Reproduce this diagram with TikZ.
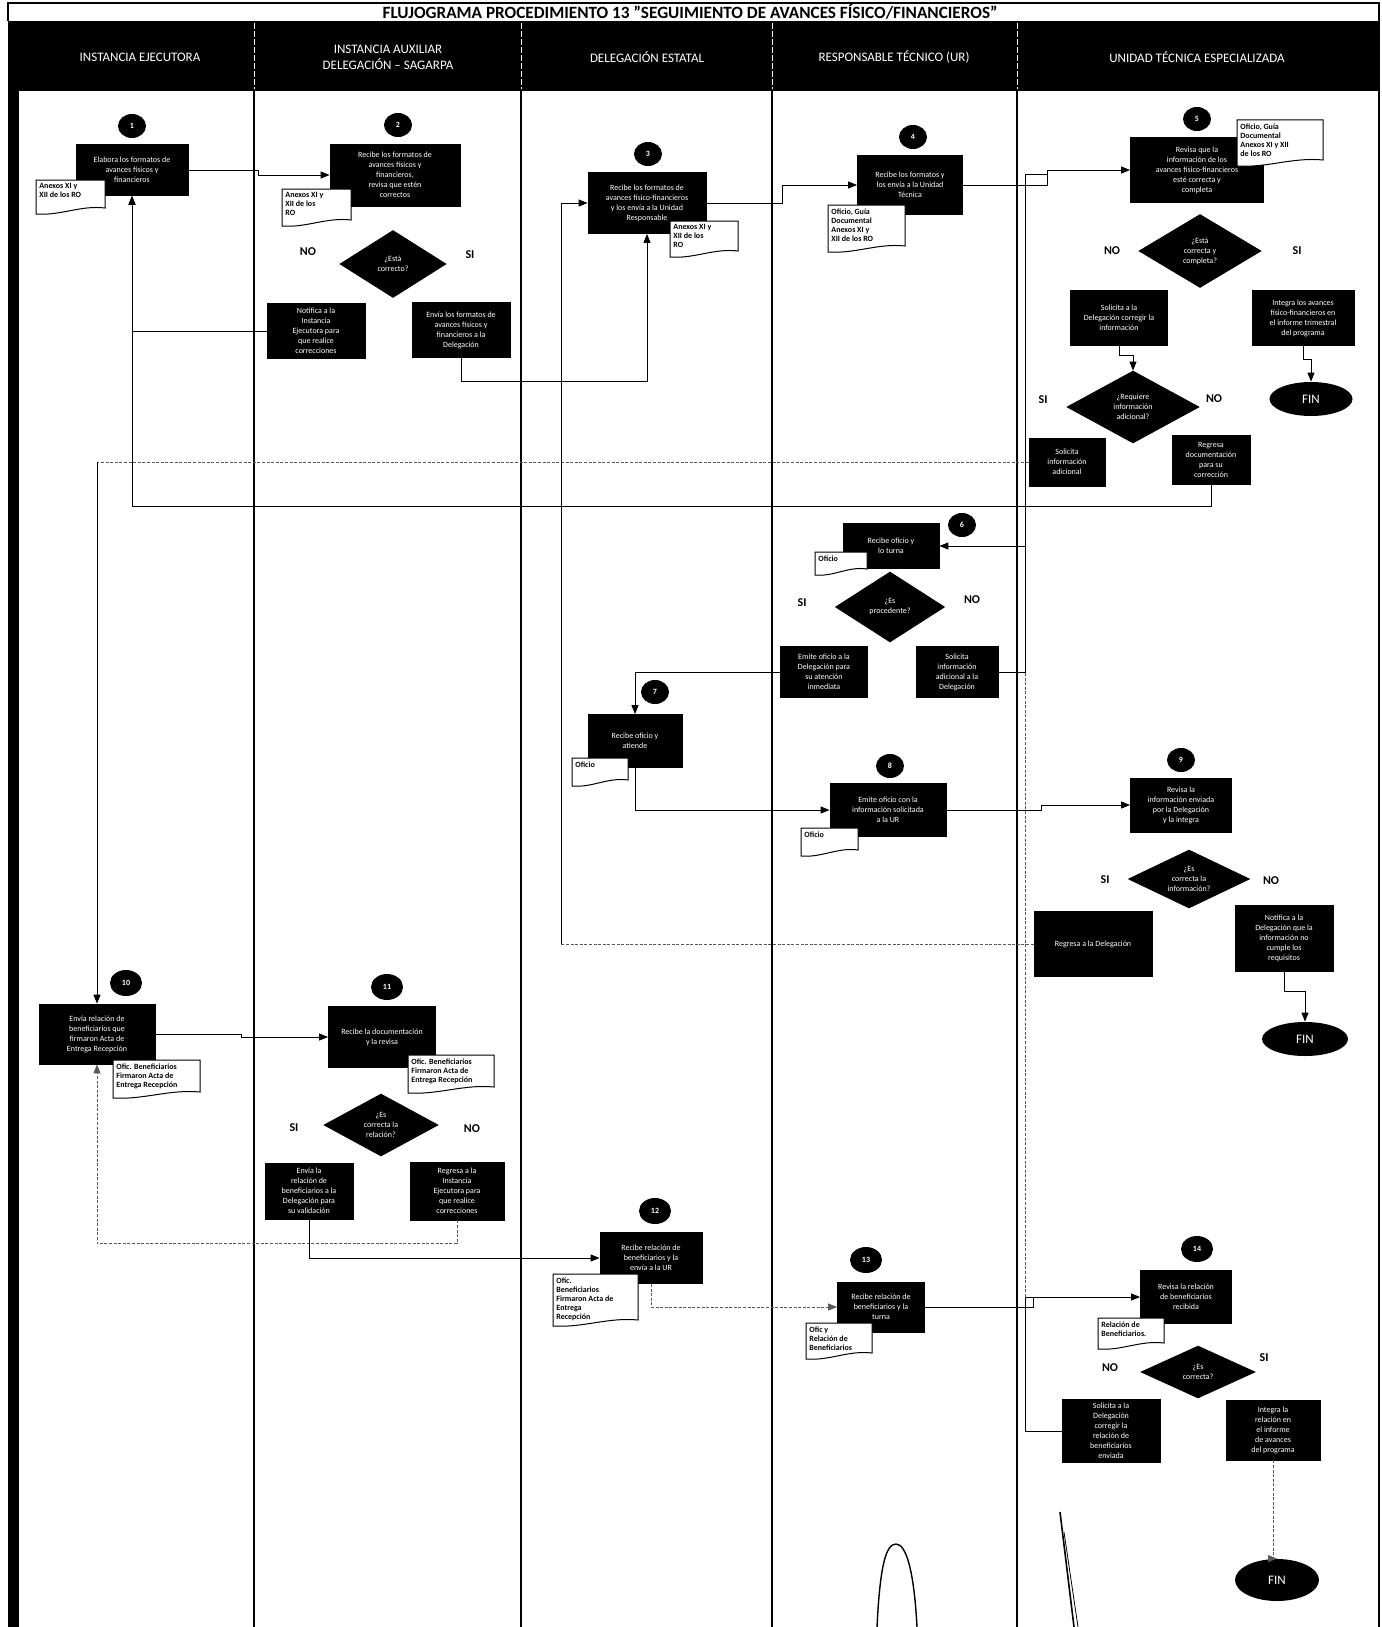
\documentclass[tikz,border=0pt]{standalone}
\usepackage{fontspec}
\setmainfont{Carlito}
\usetikzlibrary{shapes.geometric,arrows.meta,calc}
\tikzset{
  lanes/.style={draw=black, line width=0.8pt},
  wh/.style 2 args={minimum width=#1*0.5pt, minimum height=#2*0.5pt},
  pbox/.style={rectangle, draw=black, fill=black, text=white, font=\fontsize{4}{5}\selectfont, align=center, inner sep=0.5pt},
  pdia/.style={diamond, draw=black, fill=black, text=white, font=\fontsize{4}{5}\selectfont, align=center, inner sep=0pt, aspect=1.6},
  pnum/.style={ellipse, fill=black, text=white, font=\fontsize{4}{4}\selectfont\bfseries, inner sep=0pt},
  pfin/.style={ellipse, fill=black, text=white, font=\fontsize{6.5}{7}\selectfont, inner sep=0pt},
  lbl/.style={font=\fontsize{6}{7}\selectfont\bfseries, inner sep=0pt},
  conn/.style={draw=black, line width=0.5pt},
  arr/.style={conn, -{Triangle[length=4.5pt,width=3.5pt]}},
  dline/.style={draw=black!65, line width=0.5pt, dash pattern=on 1.5pt off 0.8pt},
  darr/.style={dline, -{Triangle[length=4.5pt,width=3.5pt]}},
  hdr/.style={text=white, font=\fontsize{6.5}{8}\selectfont, align=center},
  doctext/.style={font=\fontsize{4}{4.5}\selectfont\bfseries, align=left, inner sep=0pt, text=black},
  docshape/.style={fill=white, draw=black, line width=0.5pt}
}
\newcommand{\mydoc}[6]{%
  \filldraw[docshape] (#2,#3) -- (#4,#3) -- (#4,{#5-6}) .. controls ({#4-0.35*(#4-#2)},{#5-9}) and ({#2+0.35*(#4-#2)},{#5+2}) .. (#2,#5) -- cycle;
  \node[doctext, anchor=north west] (#1) at ({#2+3},{#3+3}) {#6};%
}
\begin{document}
\begin{tikzpicture}[x=0.5pt,y=-0.5pt]
\useasboundingbox (0,0) rectangle (1381,1627);
% frame and header
\draw[line width=0.8pt] (8,21) -- (8,3) -- (1379,3) -- (1379,1627);
\node[font=\fontsize{8.6}{10}\selectfont\bfseries] (title) at (690,12) {FLUJOGRAMA PROCEDIMIENTO 13 {\char34}SEGUIMIENTO DE AVANCES FÍSICO/FINANCIEROS{\char34}};
\fill[black] (8,21) rectangle (1379,91);
\fill[black] (8,21) rectangle (19,1627);
\foreach \xx in {254,521,772,1017} {
  \draw[white, line width=0.4pt, dash pattern=on 3pt off 1pt] (\xx,23) -- (\xx,89);
  \draw[lanes] (\xx,91) -- (\xx,1627);
}
\node[hdr] (h1) at (140,57) {INSTANCIA EJECUTORA};
\node[hdr] (h2) at (388,57) {INSTANCIA AUXILIAR\\DELEGACIÓN – SAGARPA};
\node[hdr] (h3) at (647,57) {DELEGACIÓN ESTATAL};
\node[hdr] (h4) at (894,57) {RESPONSABLE TÉCNICO (UR)};
\node[hdr] (h5) at (1197,57) {UNIDAD TÉCNICA ESPECIALIZADA};

% step numbers
\foreach \nm/\px/\py/\tx in {c1/132/126/1, c2/398/125/2, c3/648/154/3, c4/913/137/4, c5/1197/119/5, c6/962/525/6, c7/655/692/7, c8/890/766/8, c9/1181/760/9} {
  \node[pnum, wh={28}{24}] (\nm) at (\px,\py) {\tx};
}
\foreach \nm/\px/\py/\tx in {c10/126/983/10, c11/387/987/11, c12/655/1211/12, c13/866/1260/13, c14/1197/1249/14} {
  \node[pnum, wh={32}{26}] (\nm) at (\px,\py) {\tx};
}

% boxes
\node[pbox, wh={112}{51}] (b1) at (132,170) {Elabora los formatos de\\avances físicos y\\financieros};
\node[pbox, wh={130}{62}] (b2) at (395,175) {Recibe los formatos de\\avances físicos y\\financieros,\\revisa que estén\\correctos};
\node[pdia, wh={106}{67}] (dia2) at (393,264) {¿Está\\correcto?};
\node[pbox, wh={98}{55}] (b2no) at (316,331) {Notifica a la\\Instancia\\Ejecutora para\\que realice\\correcciones};
\node[pbox, wh={98}{55}] (b2si) at (461,330) {Envía los formatos de\\avances físicos y\\financieros a la\\Delegación};
\node[pbox, wh={118}{61}] (b3) at (647,203) {Recibe los formatos de\\avances físico-financieros\\y los envía a la Unidad\\Responsable};
\node[pbox, wh={105}{59}] (b4) at (910,185) {Recibe los formatos y\\los envía a la Unidad\\Técnica};
\node[pbox, wh={133}{65}] (b5) at (1197,170) {Revisa que la\\información de los\\avances físico-financieros\\esté correcta y\\completa};
\node[pdia, wh={122}{73}] (dia5) at (1200,251) {¿Está\\correcta y\\completa?};
\node[pbox, wh={97}{55}] (b5no) at (1119,318) {Solicita a la\\Delegación corregir la\\información};
\node[pbox, wh={102}{55}] (b5si) at (1303,318) {Integra los avances\\físico-financieros en\\el informe trimestral\\del programa};
\node[pfin, wh={83}{34}] (fin5a) at (1311,399) {FIN};
\node[pdia, wh={132}{72}] (dia5b) at (1133,407) {¿Requiere\\información\\adicional?};
\node[pbox, wh={76}{48}] (b5c) at (1067,462) {Solicita\\información\\adicional};
\node[pbox, wh={78}{49}] (b5d) at (1211,460) {Regresa\\documentación\\para su\\corrección};
\node[pbox, wh={96}{45}] (b6) at (891,546) {Recibe oficio y\\lo turna};
\node[pdia, wh={109}{70}] (dia6) at (890,607) {¿Es\\procedente?};
\node[pbox, wh={87}{51}] (b6si) at (824,672) {Emite oficio a la\\Delegación para\\su atención\\inmediata};
\node[pbox, wh={82}{51}] (b6no) at (957,672) {Solicita\\información\\adicional a la\\Delegación};
\node[pbox, wh={94}{53}] (b7) at (635,741) {Recibe oficio y\\atiende};
\node[pbox, wh={116}{53}] (b8) at (888,810) {Emite oficio con la\\información solicitada\\a la UR};
\node[pbox, wh={101}{54}] (b9) at (1181,805) {Revisa la\\información enviada\\por la Delegación\\y la integra};
\node[pdia, wh={121}{58}] (dia9) at (1189,879) {¿Es\\correcta la\\información?};
\node[pbox, wh={118}{65}] (b9si) at (1093,944) {Regresa a la Delegación};
\node[pbox, wh={98}{66}] (b9no) at (1284,938) {Notifica a la\\Delegación que la\\información no\\cumple los\\requisitos};
\node[pfin, wh={86}{34}] (fin9) at (1305,1039) {FIN};
\node[pbox, wh={116}{60}] (b10) at (97,1034) {Envía relación de\\beneficiarios que\\firmaron Acta de\\Entrega Recepción};
\node[pbox, wh={107}{61}] (b11) at (382,1037) {Recibe la documentación\\y la revisa};
\node[pdia, wh={114}{62}] (dia11) at (381,1125) {¿Es\\correcta la\\relación?};
\node[pbox, wh={88}{56}] (b11si) at (309,1191) {Envía la\\relación de\\beneficiarios a la\\Delegación para\\su validación};
\node[pbox, wh={94}{58}] (b11no) at (457,1191) {Regresa a la\\Instancia\\Ejecutora para\\que realice\\correcciones};
\node[pbox, wh={102}{51}] (b12) at (651,1258) {Recibe relación de\\beneficiarios y la\\envía a la UR};
\node[pbox, wh={87}{50}] (b13) at (881,1307) {Recibe relación de\\beneficiarios y la\\turna};
\node[pbox, wh={91}{53}] (b14) at (1186,1297) {Revisa la relación\\de beneficiarios\\recibida};
\node[pdia, wh={114}{52}] (dia14) at (1198,1372) {¿Es\\correcta?};
\node[pbox, wh={98}{63}] (b14no) at (1111,1431) {Solicita a la\\Delegación\\corregir la\\relación de\\beneficiarios\\enviada};
\node[pbox, wh={94}{60}] (b14si) at (1273,1430) {Integra la\\relación en\\el informe\\de avances\\del programa};
\node[pfin, wh={84}{42}] (fin14) at (1277,1580) {FIN};

% decision labels
\node[lbl] (l1) at (308,252) {NO};
\node[lbl] (l2) at (470,255) {SI};
\node[lbl] (l3) at (1112,251) {NO};
\node[lbl] (l4) at (1297,251) {SI};
\node[lbl] (l5) at (1043,400) {SI};
\node[lbl] (l6) at (1214,399) {NO};
\node[lbl] (l7) at (802,603) {SI};
\node[lbl] (l8) at (972,600) {NO};
\node[lbl] (l9) at (1105,880) {SI};
\node[lbl] (l10) at (1271,881) {NO};
\node[lbl] (l11) at (294,1128) {SI};
\node[lbl] (l12) at (472,1129) {NO};
\node[lbl] (l13) at (1110,1368) {NO};
\node[lbl] (l14) at (1264,1358) {SI};

% helper coordinates
\coordinate (jb5v) at (1025,174);
\coordinate (jb5) at (1048,174);
\coordinate (vx3) at (561,0);

% connectors
\draw[arr] (b1.east) -- ++(70,0) |- (b2.west);
\draw[arr] (b2no.west) -| (b1.south);
\draw[arr] (b2si.south) -- ++(0,24) -| (b3.south);
\draw[arr] (b3.east) -- ++(76,0) |- (b4.west);
\draw[arr] (b4.east) -- ++(85,0) |- (b5.west);
\draw[conn] (b6no.east) -| (jb5v) -- (jb5);
\draw[arr] (b6.east -| jb5v) -- (b6.east);
\draw[arr] (b5no.south) -- ++(0,10) -| (dia5b.north);
\draw[arr] (b5si.south) -- ++(0,14) -| (fin5a.north);
\draw[dline] (b5c.west) -- (b5c.west -| b10.north);
\draw[arr] (b5c.west -| b10.north) -- (b10.north);
\draw[arr] (b5d.south) -- ++(0,22) -| (b1.south);
\draw[arr] (b6si.west) -| (b7.north);
\draw[arr] (b7.south) |- (b8.west);
\draw[arr] (b8.east) -- ++(95,0) |- (b9.west);
\draw[dline] (b9si.west) -- (b9si.west -| vx3);
\draw[arr] (b9si.west -| vx3) |- (b3.west);
\draw[arr] (b9no.south) -- ++(0,20) -| (fin9.north);
\draw[arr] (b10.east) -- ++(86,0) |- (b11.west);
\draw[darr] (b11no.south) -- ++(0,23) -| (b10.south);
\draw[arr] (b11si.south) |- (b12.west);
\draw[darr] (b12.south) |- (b13.west);
\draw[arr] (b13.east) -- ++(109,0) |- (b14.west);
\draw[conn] (b14no.west) -| (b14.west -| jb5v) -- (b14.west -| jb5);
\draw[dline] (b14.west -| jb5v) -- (b6no.east -| jb5v);
\draw[darr] (b14si.south) -- (fin14.north -| b14si.south) -- (fin14.north);

% documents
\mydoc{d1}{36}{180}{105}{214}{Anexos XI y\\XII de los RO}
\mydoc{d2}{282}{189}{351}{226}{Anexos XI y\\XII de los\\RO}
\mydoc{d3}{670}{221}{738}{257}{Anexos XI y\\XII de los\\RO}
\mydoc{d4}{828}{205}{905}{252}{Oficio, Guía\\Documental\\Anexos XI y\\XII de los RO}
\mydoc{d5}{1237}{120}{1323}{166}{Oficio, Guía\\Documental\\Anexos XI y XII\\de los RO}
\mydoc{d6}{815}{552}{867}{575}{Oficio}
\mydoc{d7}{572}{758}{628}{786}{Oficio}
\mydoc{d8}{801}{828}{858}{856}{Oficio}
\mydoc{d10}{113}{1060}{200}{1098}{Ofic. Beneficiarios\\Firmaron Acta de\\Entrega Recepción}
\mydoc{d11}{408}{1055}{494}{1093}{Ofic. Beneficiarios\\Firmaron Acta de\\Entrega Recepción}
\mydoc{d12}{553}{1274}{638}{1326}{Ofic.\\Beneficiarios\\Firmaron Acta de\\Entrega\\Recepción}
\mydoc{d13}{806}{1323}{872}{1359}{Ofic y\\Relación de\\Beneficiarios}
\mydoc{d14}{1098}{1318}{1164}{1349}{Relación de\\Beneficiarios.}

% hand marks at the bottom
\draw[line width=0.7pt] (877,1627) .. controls (880,1565) and (886,1544) .. (896,1544) .. controls (906,1544) and (914,1570) .. (917,1627);
\draw[line width=0.8pt] (1060,1512) -- (1074,1627);
\draw[line width=0.4pt] (1064,1532) -- (1078,1627);
\end{tikzpicture}
\end{document}
